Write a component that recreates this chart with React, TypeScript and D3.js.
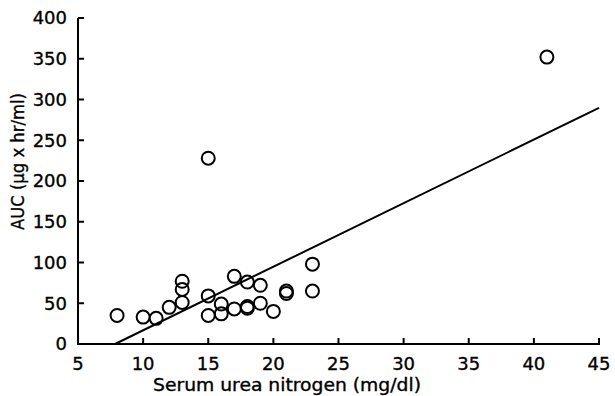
import React from "react";
import * as d3 from "d3";

const bun = [8, 10, 11, 12, 13, 13, 13, 15, 15, 15, 16, 16, 17, 17, 18, 18, 18, 19, 19, 20, 21, 21, 23, 23, 41];
const auc = [35, 33, 31.5, 45, 77, 67, 51, 59, 35, 228, 49, 37, 83, 43, 76, 44, 46, 72, 50, 40, 62, 65, 98, 65, 352];
const xTicks = [5, 10, 15, 20, 25, 30, 35, 40, 45];
const yTicks = [0, 50, 100, 150, 200, 250, 300, 350, 400];
const fitSlope = 7.8;
const fitIntercept = -61.2;
const fitRange = [61.2 / 7.8, 45];

const W = 615, H = 396;
const left = 78, right = 599, top = 18, bottom = 344;
const font = "DejaVu Sans, sans-serif";

export default function App() {
  const x = d3.scaleLinear().domain([5, 45]).range([left, right]);
  const y = d3.scaleLinear().domain([0, 400]).range([bottom, top]);
  const line = d3.line<number>().x((d) => x(d)).y((d) => y(fitSlope * d + fitIntercept));
  const txt = { fontFamily: font, stroke: "#000", strokeWidth: 0.35 } as const;
  return (
    <svg width={W} height={H} style={{ position: "absolute", left: 0, top: 0, background: "#fff" }}>
      <line x1={left} x2={left} y1={top} y2={bottom + 1} stroke="#000" strokeWidth={2} />
      <line x1={left - 1} x2={right + 1} y1={bottom} y2={bottom} stroke="#000" strokeWidth={2} />
      {yTicks.map((t) => (
        <g key={"y" + t}>
          <line x1={left} x2={left + 6} y1={y(t)} y2={y(t)} stroke="#000" strokeWidth={2} />
          <text x={67} y={y(t)} dy="0.36em" textAnchor="end" fontSize={18} {...txt}>{t}</text>
        </g>
      ))}
      {xTicks.map((t) => (
        <g key={"x" + t}>
          <line x1={x(t)} x2={x(t)} y1={bottom} y2={bottom - 6} stroke="#000" strokeWidth={2} />
          <text x={x(t)} y={370} textAnchor="middle" fontSize={18} {...txt}>{t}</text>
        </g>
      ))}
      <text x={153} y={390.5} fontSize={17} textLength={268} lengthAdjust="spacingAndGlyphs" {...txt}>Serum urea nitrogen (mg/dl)</text>
      <text transform={`translate(24,161.5) rotate(-90)`} textAnchor="middle" fontSize={17} textLength={137} lengthAdjust="spacingAndGlyphs" {...txt}>AUC (μg x hr/ml)</text>
      <path d={line(fitRange) || ""} fill="none" stroke="#000" strokeWidth={2} />
      {bun.map((b, i) => (
        <circle key={i} cx={x(b)} cy={y(auc[i])} r={6.5} fill="none" stroke="#000" strokeWidth={2} />
      ))}
    </svg>
  );
}
